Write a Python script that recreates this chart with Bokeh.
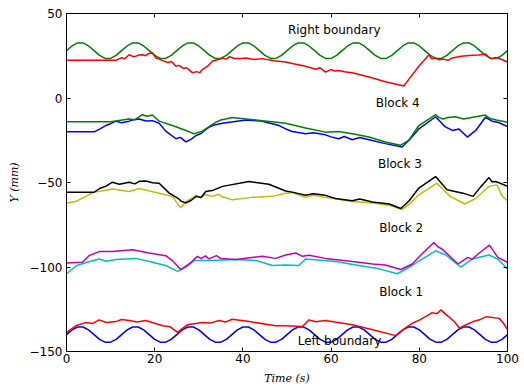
from bokeh.plotting import figure
from bokeh.models import LinearAxis, Range1d, FixedTicker
from bokeh.core.properties import value
from bokeh.embed import file_html
from bokeh.resources import INLINE

# ---- data ----
sine_t = [i * 1.25 for i in range(81)]
right_boundary = [28.0, 30.8, 32.6, 32.6, 30.8, 28.0, 25.2, 23.4, 23.4, 25.2] * 8 + [28.0]
left_boundary = [-140.0, -137.2, -135.5, -135.5, -137.2, -140.0, -142.8, -144.5, -144.5, -142.8] * 8 + [-140.0]

rb_red_t = [0, 11.2, 12.0, 12.5, 13.2, 14.2, 15.0, 15.5, 16.3, 17.2, 18.0, 18.5, 19.5, 20.3, 21.0, 21.8, 23.0,
            23.8, 24.8, 25.5, 26.5, 27.2, 28.0, 28.6, 29.5, 30.2, 30.8, 32.0, 33.1, 34.2, 35.4, 36.2, 37.0,
            38.0, 39.2, 40.7, 42.5, 44.4, 47.0, 49.7, 51.2, 54.2, 56.5, 57.5, 58.7, 60.0, 60.8, 61.7, 63.0,
            64.8, 68.6, 72.3, 75.0, 76.5, 77.6, 79.9, 82.2, 82.8, 83.7, 84.5, 85.5, 86.5, 87.5, 89.5, 92.0,
            93.5, 95.0, 95.8, 96.5, 97.2, 98.0, 100]
rb_red_y = [22.3, 22.3, 23.3, 23.8, 23.2, 25.6, 24.6, 24.5, 25.4, 25.6, 25.0, 26.2, 26.6, 23.7, 23.0, 22.1, 21.0,
            21.6, 18.8, 19.3, 17.5, 17.9, 16.2, 14.9, 15.6, 15.0, 16.8, 18.8, 21.7, 22.6, 23.7, 23.0, 24.5,
            23.4, 23.3, 23.7, 22.8, 23.3, 22.0, 21.3, 20.4, 18.8, 17.0, 17.9, 15.3, 16.8, 16.0, 16.3, 15.5,
            14.9, 12.4, 9.6, 8.0, 7.1, 11.0, 18.8, 25.6, 23.2, 23.7, 22.6, 23.0, 22.3, 23.7, 24.7, 25.3,
            25.5, 26.0, 24.0, 23.3, 24.0, 23.5, 21.3]

b4_green_t = [0, 10.0, 14.2, 15.5, 17.2, 18.3, 19.5, 21.0, 24.0, 27.1, 28.9, 30.8, 33.9, 35.0, 36.1, 37.5,
              40.7, 44.4, 49.7, 54.2, 58.7, 61.7, 64.8, 68.6, 72.3, 75.7, 77.6, 79.9, 83.7, 84.5, 85.4, 86.5,
              88.2, 90.0, 95.0, 95.8, 96.5, 97.5, 100]
b4_green_y = [-14.0, -14.0, -12.4, -12.8, -9.9, -10.8, -10.1, -13.7, -16.3, -19.2, -21.2, -19.6, -14.3, -13.0,
              -12.4, -11.6, -12.4, -13.4, -14.9, -17.7, -20.2, -19.8, -21.2, -23.1, -26.0, -28.0, -25.1, -16.3,
              -9.9, -11.6, -12.4, -11.5, -11.1, -12.4, -10.1, -11.8, -12.4, -13.0, -14.3]

b4_blue_t = [0, 6.3, 7.5, 8.9, 10.0, 11.2, 12.5, 14.2, 15.3, 16.5, 18.0, 19.5, 21.0, 22.5, 23.5, 24.8, 25.8,
             27.1, 28.2, 29.4, 30.5, 32.3, 33.5, 35.4, 40.7, 44.4, 48.2, 49.7, 51.2, 54.2, 56.0, 58.7, 60.0,
             61.7, 63.0, 64.8, 66.5, 68.6, 72.3, 76.1, 77.6, 79.9, 83.7, 85.8, 87.5, 89.0, 90.9, 92.8, 95.0,
             96.5, 98.0, 100]
b4_blue_y = [-20.0, -20.0, -18.4, -16.3, -15.2, -13.7, -14.6, -13.7, -12.8, -12.4, -13.6, -13.4, -14.9, -19.6,
             -21.5, -24.1, -23.3, -26.0, -24.5, -22.2, -21.0, -17.3, -16.0, -14.9, -13.0, -13.7, -16.3, -18.3,
             -19.8, -21.2, -20.6, -21.8, -23.0, -24.1, -22.8, -24.7, -23.4, -24.7, -27.0, -29.0, -25.1, -18.3,
             -11.1, -16.9, -19.2, -18.4, -23.1, -19.2, -11.4, -13.7, -14.5, -16.9]

b3_black_t = [0, 6.3, 7.6, 8.9, 10.4, 12.0, 14.2, 15.5, 16.5, 18.0, 19.5, 21.0, 23.3, 25.2, 26.0, 27.1, 28.3,
              29.4, 30.5, 31.6, 33.0, 35.4, 41.4, 45.9, 49.7, 51.2, 54.2, 56.0, 58.7, 61.0, 64.8, 66.5, 69.4,
              73.2, 75.8, 77.6, 79.9, 83.7, 85.0, 86.3, 89.9, 92.2, 94.0, 95.8, 96.5, 97.3, 98.5, 100]
b3_black_y = [-55.7, -55.7, -53.4, -52.3, -49.8, -51.0, -49.8, -50.8, -49.3, -49.1, -50.2, -50.4, -56.3, -59.2,
              -61.0, -62.1, -60.5, -58.2, -58.9, -55.3, -54.8, -52.3, -49.4, -51.0, -55.0, -55.7, -57.6, -56.6,
              -57.6, -59.5, -60.8, -59.8, -61.5, -62.7, -65.4, -61.1, -53.3, -46.5, -50.5, -54.3, -56.3, -58.2,
              -52.3, -47.1, -49.6, -49.4, -50.6, -52.3]

b3_yellow_t = [0, 2.1, 3.6, 6.3, 8.0, 10.4, 14.2, 16.5, 21.0, 24.0, 25.9, 27.1, 29.4, 30.5, 31.5, 33.1, 34.5,
               35.5, 37.6, 42.1, 46.7, 49.7, 51.2, 54.2, 56.0, 58.7, 64.8, 69.4, 73.2, 76.1, 78.4, 79.9, 84.0,
               87.0, 90.3, 92.9, 95.8, 97.6, 98.8, 100]
b3_yellow_y = [-62.1, -61.3, -59.2, -55.7, -55.0, -53.9, -55.3, -53.6, -56.3, -58.2, -65.0, -61.3, -57.6, -58.9,
               -57.2, -58.2, -57.0, -58.6, -60.2, -58.8, -58.2, -56.3, -56.0, -58.8, -57.5, -58.8, -61.3, -62.1,
               -63.5, -66.0, -61.3, -57.3, -50.4, -58.2, -62.7, -59.2, -52.3, -51.4, -58.2, -60.8]

b2_magenta_t = [0, 3.6, 5.1, 7.4, 10.4, 15.0, 18.7, 22.5, 24.0, 25.9, 27.8, 29.7, 30.5, 31.5, 32.3, 33.1, 34.0,
                35.0, 38.4, 44.4, 47.4, 49.7, 52.0, 53.5, 55.0, 58.7, 64.8, 69.4, 72.3, 75.8, 78.4, 80.6, 83.3,
                84.2, 85.1, 88.8, 91.0, 92.0, 93.3, 95.9, 97.8, 100]
b2_magenta_y = [-97.6, -97.2, -93.3, -90.9, -90.9, -89.8, -91.7, -93.3, -96.2, -101.5, -98.2, -93.7, -95.0, -93.4,
                -95.2, -94.3, -93.3, -95.0, -95.6, -93.7, -94.9, -92.9, -91.7, -93.7, -93.0, -94.9, -96.8, -98.2,
                -98.8, -101.5, -98.2, -92.3, -85.5, -88.0, -89.3, -98.2, -94.3, -95.5, -92.3, -87.1, -94.3, -97.2]

b2_cyan_t = [0, 2.3, 5.3, 7.4, 9.0, 11.2, 15.7, 19.5, 22.5, 25.2, 27.1, 29.0, 33.1, 38.4, 43.0, 46.7, 49.7, 52.7,
             54.2, 61.0, 66.3, 70.9, 75.0, 78.4, 83.7, 86.0, 89.4, 92.0, 95.8, 97.8, 100]
b2_cyan_y = [-104.0, -99.1, -96.8, -95.3, -96.6, -95.6, -94.9, -97.2, -99.1, -102.6, -100.1, -96.2, -96.2, -95.6,
             -96.2, -99.1, -98.8, -99.1, -95.3, -96.8, -99.1, -101.1, -104.0, -99.1, -90.4, -92.9, -100.1, -95.3,
             -92.9, -95.3, -101.1]

b1_red_t = [0, 2.1, 4.3, 6.0, 7.4, 9.0, 11.2, 12.5, 14.2, 16.0, 18.0, 21.8, 23.5, 25.2, 26.2, 27.4, 30.8, 32.5,
            34.6, 36.0, 37.6, 41.4, 47.4, 49.7, 53.5, 55.0, 56.5, 58.7, 64.8, 69.4, 74.7, 76.0, 77.2, 78.4, 80.0,
            81.5, 82.9, 84.0, 84.9, 86.0, 86.8, 88.0, 89.1, 90.5, 92.2, 93.5, 95.2, 98.1, 99.0, 100]
b1_red_y = [-138.7, -134.8, -132.9, -133.4, -131.3, -132.8, -132.3, -131.1, -131.7, -132.6, -131.7, -134.8, -135.4,
            -138.7, -136.6, -134.2, -132.9, -133.2, -131.7, -132.6, -130.9, -132.3, -134.8, -134.8, -135.2, -131.3,
            -132.4, -131.7, -134.2, -137.1, -140.6, -137.8, -135.4, -133.3, -131.4, -129.2, -127.0, -127.6,
            -125.4, -128.0, -129.7, -132.4, -136.2, -134.3, -132.3, -131.4, -129.4, -130.4, -133.0, -137.1]

label_text = ["Right boundary", "Block 4", "Block 3", "Block 2", "Block 1", "Left boundary"]
label_t = [60.7, 75.1, 75.6, 75.9, 75.9, 61.9]
label_y = [40.2, -3.2, -39.1, -76.7, -114.9, -144.0]

x_ticks = [0, 20, 40, 60, 80, 100]
y_ticks = [-150, -100, -50, 0, 50]

# ---- figure ----
p = figure(width=524, height=387, x_range=Range1d(0, 100), y_range=Range1d(-150, 50),
           output_backend="svg", toolbar_location=None,
           min_border_left=66, min_border_right=17, min_border_top=13, min_border_bottom=32,
           x_axis_label="Time (s)", y_axis_label="Y (mm)")
p.background_fill_color = "white"
p.border_fill_color = "white"
p.outline_line_color = "black"
p.outline_line_width = 1
p.grid.visible = False

for ax in (p.xaxis[0], p.yaxis[0]):
    ax.major_tick_in = 4
    ax.major_tick_out = 0
    ax.minor_tick_line_color = None
    ax.major_label_text_font = "DejaVu Sans"
    ax.major_label_text_font_size = "12px"
    ax.major_label_text_color = "black"
    ax.axis_label_text_font = "DejaVu Serif"
    ax.axis_label_text_font_style = "italic"
    ax.axis_label_text_font_size = "11px"
    ax.axis_label_text_color = "black"
    ax.axis_line_color = "black"
p.xaxis[0].ticker = FixedTicker(ticks=x_ticks)
p.yaxis[0].ticker = FixedTicker(ticks=y_ticks)
p.xaxis[0].major_label_standoff = 2
p.xaxis[0].axis_label_standoff = 6
p.yaxis[0].major_label_standoff = 4
p.yaxis[0].axis_label_standoff = 6

top = LinearAxis(ticker=FixedTicker(ticks=x_ticks), major_label_text_font_size="1px",
                 major_label_text_color=None, axis_line_color="black",
                 major_tick_in=4, major_tick_out=0, minor_tick_line_color=None, major_label_standoff=0)
right = LinearAxis(ticker=FixedTicker(ticks=y_ticks), major_label_text_font_size="1px",
                   major_label_text_color=None, axis_line_color="black",
                   major_tick_in=4, major_tick_out=0, minor_tick_line_color=None, major_label_standoff=0)
p.add_layout(top, "above")
p.add_layout(right, "right")

lw = 1.5
p.line(sine_t, left_boundary, line_color="#0000ff", line_width=lw)
p.line(b1_red_t, b1_red_y, line_color="#ff0000", line_width=lw)
p.line(b2_cyan_t, b2_cyan_y, line_color="#00bfbf", line_width=lw)
p.line(b2_magenta_t, b2_magenta_y, line_color="#bf00bf", line_width=lw)
p.line(b3_yellow_t, b3_yellow_y, line_color="#bfbf00", line_width=lw)
p.line(b3_black_t, b3_black_y, line_color="#000000", line_width=lw)
p.line(b4_blue_t, b4_blue_y, line_color="#0000ff", line_width=lw)
p.line(b4_green_t, b4_green_y, line_color="#008000", line_width=lw)
p.line(sine_t, right_boundary, line_color="#008000", line_width=lw)
p.line(rb_red_t, rb_red_y, line_color="#ff0000", line_width=lw)

p.text(x=label_t, y=label_y, text=label_text, text_align="center", text_baseline="middle",
       text_font=value("DejaVu Sans"), text_font_size="12px", text_color="black")

open("out.html", "w").write(file_html(p, INLINE))
